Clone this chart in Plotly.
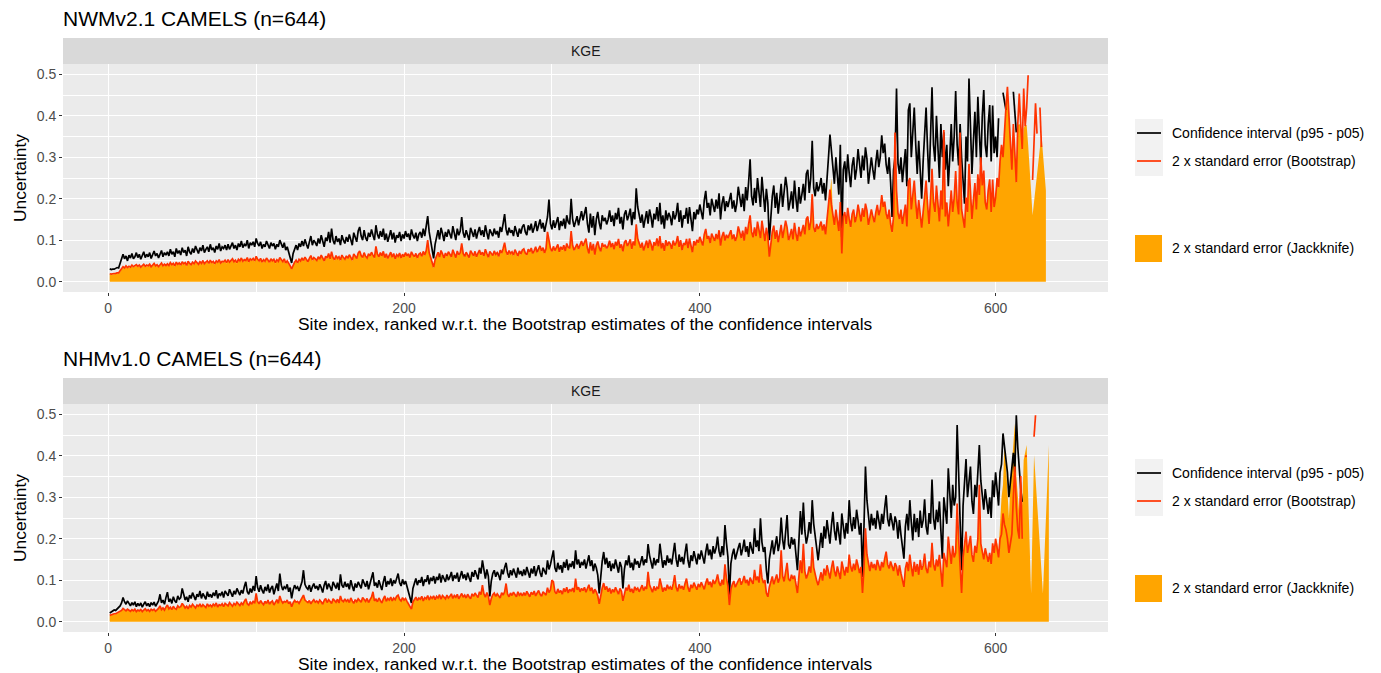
import numpy as np
import plotly.graph_objects as go

# ---------------- DATA (values in thousandths, per site index 1..644) ----------------
titles = ["NWMv2.1 CAMELS (n=644)", "NHMv1.0 CAMELS (n=644)"]
facet_label = "KGE"
legend_labels = ["Confidence interval (p95 - p05)",
                 "2 x standard error (Bootstrap)",
                 "2 x standard error (Jackknife)"]
x_title = "Site index, ranked w.r.t. the Bootstrap estimates of the confidence intervals"
y_title = "Uncertainty"
x_ticks = [0, 200, 400, 600]
y_ticks = [0.0, 0.1, 0.2, 0.3, 0.4, 0.5]

nwm_ci = [
    [31,29,30,30,32,34,33,45,58,66,55,62,50,64,57,68,55,60,70,58],
    [66,54,63,72,58,66,60,70,56,64,74,62,68,57,66,75,60,70,64,72],
    [62,78,66,72,60,80,68,75,64,82,70,76,62,84,72,66,80,70,86,74],
    [68,82,74,88,70,78,84,72,90,76,82,70,86,78,92,74,84,80,88,76],
    [90,78,86,94,80,88,76,92,84,98,82,90,86,100,80,94,88,96,84,104],
    [92,86,96,80,90,84,98,88,80,94,86,92,78,90,84,100,88,82,94,76],
    [84,70,62,45,68,80,88,76,92,84,98,86,102,90,80,96,110,88,100,94],
    [86,104,92,112,96,84,106,98,120,94,128,100,90,110,96,104,88,112,100,92],
    [108,96,114,100,88,118,104,96,122,132,110,100,124,106,98,118,108,126,112,100],
    [136,114,104,122,108,128,100,116,96,110,124,102,118,94,112,106,120,98,114,104],
    [122,108,116,100,126,112,104,118,98,114,120,106,128,110,132,158,120,100,82,56],
    [90,110,124,102,130,116,98,120,108,126,112,104,134,118,100,128,112,122,156,118],
    [106,124,114,100,130,118,108,126,104,120,132,112,124,108,136,118,102,126,116,110],
    [128,114,122,106,132,120,140,163,126,112,130,118,124,110,134,120,108,128,116,132],
    [138,120,112,136,124,140,118,130,146,122,134,150,128,142,120,138,156,198,140,126],
    [148,130,142,156,124,146,134,152,128,160,144,138,200,150,132,146,158,136,152,170],
    [148,162,180,140,118,164,130,158,112,150,168,142,126,160,146,154,138,150,172,144],
    [160,134,166,150,178,140,156,126,162,172,148,160,176,136,168,150,225,180,158,142],
    [162,130,150,170,140,174,156,130,164,150,180,146,190,138,160,128,172,148,166,156],
    [136,170,150,162,190,144,172,130,160,152,178,140,180,154,122,168,150,174,162,186],
    [170,150,196,219,178,190,160,200,184,168,198,176,213,150,188,206,170,194,180,200],
    [214,176,196,168,188,229,200,180,212,170,228,196,240,295,206,184,226,190,250,214],
    [180,253,200,168,224,190,100,170,206,232,178,214,164,198,236,180,210,253,226,172],
    [192,218,176,244,200,168,228,188,210,236,196,260,270,214,250,340,226,206,240,218],
    [230,250,212,238,196,262,300,355,318,280,236,300,254,210,330,108,270,290,240,307],
    [262,228,280,300,246,272,320,286,250,304,268,324,296,236,262,300,270,246,288,318],
    [276,300,353,310,333,282,260,300,240,156,270,300,466,285,260,300,240,280,320,230],
    [414,430,300,360,420,330,260,340,280,200,290,360,420,320,240,350,469,330,290,400],
    [320,250,380,300,360,270,330,230,300,380,290,350,460,330,280,380,300,250,188,350],
    [290,490,380,260,340,410,300,446,360,280,400,462,330,300,380,426,290,425,310,350],
    [300,394,520,540,456,430,414,560,540,520,530,458,410,360,560,580,600,620,590,640],
    [620,660,640,680,700,650,720,680,700,740,720,760,740,780,760,800,780,820,800,840],
    [820,860,840,880],
]

nwm_boot = [
    [19,18,19,19,20,21,21,26,32,36,33,38,34,37,35,40,36,38,41,37],
    [40,35,39,42,37,40,38,42,36,39,44,38,41,36,40,45,38,42,39,43],
    [39,46,41,44,38,47,42,45,40,48,43,46,39,49,44,41,47,43,50,45],
    [42,48,44,51,43,47,50,44,52,46,49,43,50,47,53,45,49,48,52,46],
    [53,47,51,55,48,52,46,54,50,57,49,53,51,58,48,55,52,56,50,61],
    [54,50,56,47,53,49,57,52,47,55,50,54,46,53,49,58,52,48,55,45],
    [50,42,38,31,41,47,52,45,54,50,57,51,59,53,48,56,63,52,58,55],
    [51,60,54,64,56,50,61,57,68,55,72,58,53,63,56,60,52,64,58,54],
    [62,56,65,58,52,67,60,56,69,74,63,58,70,61,57,67,62,71,64,58],
    [85,66,60,70,62,73,58,67,56,64,71,59,68,55,65,61,69,57,66,60],
    [70,62,67,58,72,65,60,68,57,66,69,61,73,64,75,100,70,58,48,35],
    [53,64,71,59,75,67,57,69,62,72,65,60,77,68,58,74,65,70,92,68],
    [61,71,66,58,75,68,62,73,60,69,76,65,71,62,78,68,59,73,67,63],
    [74,66,70,61,76,69,80,94,73,65,75,68,72,64,77,69,62,74,67,76],
    [79,69,65,78,72,81,68,75,84,71,77,86,74,82,69,80,120,98,81,73],
    [85,75,82,90,72,84,77,88,74,92,83,80,122,87,76,84,91,79,88,98],
    [86,94,104,81,68,95,75,91,65,87,97,82,73,93,84,89,80,87,99,83],
    [93,78,96,87,103,81,90,73,94,100,86,93,102,79,97,87,138,104,92,82],
    [94,75,87,99,81,101,91,75,95,87,104,85,110,80,93,74,100,86,96,91],
    [79,99,87,94,110,84,100,76,93,88,103,81,104,89,71,98,87,101,94,108],
    [99,87,114,127,103,110,93,116,107,98,115,102,124,87,109,120,99,113,105,116],
    [124,102,114,98,109,133,116,105,123,99,132,114,139,160,120,107,131,110,145,124],
    [105,147,116,98,130,110,60,99,120,135,103,124,95,115,137,105,122,147,131,100],
    [112,127,102,142,116,98,132,109,122,137,114,151,157,124,145,211,131,120,139,127],
    [134,145,123,138,114,152,174,222,185,163,137,174,148,122,192,68,157,168,139,178],
    [152,132,163,174,143,158,186,166,145,177,156,188,172,137,152,174,157,143,167,185],
    [160,174,209,180,193,164,151,174,139,120,157,360,220,165,151,174,139,163,186,133],
    [240,250,174,209,244,191,151,197,162,130,168,209,244,186,139,203,272,191,168,232],
    [186,145,220,174,366,157,191,133,174,220,168,203,267,191,162,360,174,145,130,203],
    [168,284,220,151,197,238,174,259,209,300,232,268,191,174,220,247,168,246,180,203],
    [250,228,290,330,300,380,420,470,400,350,270,380,290,240,380,454,378,320,466,375],
    [420,498,540,560,245,330,430,357,520,420,325,560,580,600,620,640,660,680,700,720],
    [740,760,780,800],
]

nwm_jack = [
    [17,17,18,18,19,20,20,24,30,34,31,36,32,35,33,38,34,36,39,35],
    [38,33,37,40,35,38,36,40,34,37,42,36,39,34,38,43,36,40,37,41],
    [37,44,39,42,36,45,40,43,38,46,41,44,37,47,42,39,45,41,48,43],
    [40,46,42,49,41,45,48,42,50,44,47,41,48,45,51,43,47,46,50,44],
    [51,45,49,53,46,50,44,52,48,55,47,51,49,56,46,53,50,54,48,59],
    [52,48,54,45,51,47,55,50,45,53,48,52,44,51,47,56,50,46,53,43],
    [48,40,36,29,39,45,50,43,52,48,55,49,57,51,46,54,61,50,56,53],
    [49,58,52,62,54,48,59,55,66,53,70,56,51,61,54,58,50,62,56,52],
    [60,54,63,56,50,65,58,54,67,72,61,56,68,59,55,65,60,69,62,56],
    [83,64,58,68,60,71,56,65,54,62,69,57,66,53,63,59,67,55,64,58],
    [68,60,65,56,70,63,58,66,55,64,67,59,71,62,73,98,68,56,46,33],
    [51,62,69,57,73,65,55,67,60,70,63,58,75,66,56,72,63,68,90,66],
    [59,69,64,56,73,66,60,71,58,67,74,63,69,60,76,66,57,71,65,61],
    [72,64,68,59,74,67,78,92,71,63,73,66,70,62,75,67,60,72,65,74],
    [77,67,63,76,70,79,66,73,82,69,75,84,72,80,67,78,116,96,79,71],
    [83,73,80,88,70,82,75,86,72,90,81,78,120,85,74,82,89,77,86,96],
    [84,92,102,79,66,93,73,89,63,85,95,80,71,91,82,87,78,85,97,81],
    [91,76,94,85,101,79,88,71,92,98,84,91,100,77,95,85,136,102,90,80],
    [92,73,85,97,79,99,89,73,93,85,102,83,108,78,91,72,98,84,94,89],
    [77,97,85,92,108,82,98,74,91,86,101,79,102,87,69,96,85,99,92,106],
    [97,85,112,125,101,108,91,114,105,96,113,100,122,85,107,118,97,111,103,114],
    [122,100,112,96,107,131,114,103,121,97,130,112,137,158,118,105,129,108,143,122],
    [103,145,114,96,128,108,58,97,118,133,101,122,93,113,135,103,120,145,129,98],
    [110,125,100,140,114,96,130,107,120,135,112,149,155,122,143,209,129,118,137,125],
    [132,143,121,136,112,150,172,220,250,161,135,172,146,120,190,66,155,166,137,176],
    [150,130,161,172,141,156,184,164,143,175,154,186,170,135,150,172,155,141,165,183],
    [158,172,207,178,191,162,149,172,137,118,155,350,218,163,149,172,137,161,184,131],
    [238,248,172,207,242,189,149,195,160,128,166,207,242,184,137,201,270,189,166,230],
    [184,143,218,172,364,155,189,131,172,218,166,201,265,189,160,358,172,143,128,201],
    [166,282,218,149,195,236,172,257,207,298,230,266,189,172,218,245,166,244,178,201],
    [248,226,288,328,298,378,418,468,398,348,268,378,288,238,378,380,376,318,370,378],
    [378,330,540,560,160,560,580,600,620,640,357,310,265,220,560,580,600,620,640,660],
    [680,700,720,740],
]

nhm_ci = [
    [21,24,26,28,27,30,33,38,45,58,48,42,50,44,38,46,40,48,36,44],
    [38,45,35,42,48,38,44,36,46,40,47,37,43,50,66,45,52,42,58,71],
    [48,55,44,60,50,46,62,54,58,80,66,52,60,48,64,56,70,58,52,66],
    [60,74,56,68,62,54,72,60,66,58,70,62,76,56,68,64,72,58,74,66],
    [62,78,68,60,74,66,80,70,64,76,68,84,96,72,66,80,70,86,74,110],
    [82,72,88,76,68,84,74,90,70,80,86,66,78,92,74,116,88,76,84,80],
    [90,72,82,56,76,88,80,84,74,86,96,124,90,82,78,88,72,84,92,80],
    [86,76,90,82,70,88,98,78,92,84,74,96,86,80,94,76,114,88,82,96],
    [84,92,78,100,86,74,92,82,96,88,80,102,90,84,98,78,92,104,119,86],
    [94,82,100,88,76,96,110,84,98,90,104,86,100,92,108,116,94,86,102,90],
    [98,84,72,58,45,80,96,104,88,100,94,108,86,102,96,112,90,106,98,110],
    [92,108,100,116,94,112,104,96,114,100,108,120,98,112,104,118,96,110,122,104],
    [114,100,118,106,96,120,108,124,110,102,130,116,148,120,104,126,110,61,98,116],
    [124,108,120,112,100,126,114,130,142,118,106,124,112,128,118,106,130,114,122,110],
    [126,112,132,120,106,128,116,134,110,124,136,118,108,130,122,114,148,126,138,160],
    [172,130,120,142,126,136,118,144,130,150,124,140,132,146,128,172,138,150,130,144],
    [136,150,128,144,160,134,148,122,140,130,112,68,120,146,168,138,154,130,146,122],
    [140,128,150,136,118,144,132,80,126,148,136,160,130,142,124,152,138,146,130,144],
    [158,136,150,142,187,160,140,128,154,136,150,142,188,156,130,148,136,160,142,152],
    [138,164,190,150,132,162,144,156,138,166,188,148,130,160,146,170,152,138,164,150],
    [172,156,140,168,188,160,174,150,182,164,178,205,170,156,182,160,233,190,156,64],
    [140,162,176,150,168,178,190,160,176,198,168,182,156,192,176,164,225,180,196,170],
    [249,192,168,180,124,92,150,176,196,162,184,206,170,190,251,198,174,210,257,186],
    [176,204,186,200,168,124,196,267,210,287,220,188,206,240,212,293,236,200,178,148],
    [190,214,178,230,200,245,216,188,232,265,220,196,240,210,186,261,226,200,238,212],
    [293,240,218,252,224,270,244,210,238,108,230,374,293,246,220,260,232,250,224,268],
    [244,222,260,236,274,305,248,230,262,236,220,254,240,200,245,210,180,152,230,260],
    [220,293,240,196,260,216,250,204,268,226,244,295,230,210,262,236,343,250,222,270],
    [240,290,220,152,300,262,236,370,290,250,330,280,300,474,360,250,124,280,330,392],
    [300,340,374,290,260,330,300,360,426,340,300,270,320,280,260,300,250,341,300,360],
    [320,280,360,380,454,422,400,360,300,340,380,407,360,498,420,360,320,289,520,540],
    [560,580,600,620,640,660,680,700,720,740,760,780,800,820,840,860,880,900,920,940],
    [960,980,990,999],
]

nhm_boot = [
    [15,17,18,19,19,21,22,24,27,32,28,26,30,27,25,29,26,30,24,28],
    [26,29,24,28,31,26,29,25,30,27,30,25,28,32,38,29,33,28,35,40],
    [31,35,29,37,32,30,38,34,36,44,39,33,37,31,39,35,42,36,33,40],
    [37,43,35,41,38,34,43,37,40,36,42,38,45,35,41,39,43,36,44,40],
    [38,46,41,37,44,40,47,42,39,45,41,49,55,43,40,47,42,50,44,68],
    [48,43,51,45,41,49,44,52,42,47,50,40,46,53,44,62,51,45,49,47],
    [52,43,48,36,45,51,47,49,44,50,55,64,52,48,46,51,43,49,53,47],
    [50,45,52,48,42,51,56,46,53,49,44,55,50,47,54,45,62,51,48,55],
    [49,53,46,57,50,44,53,48,55,51,47,58,52,49,56,46,53,59,72,50],
    [54,48,57,51,45,55,62,49,56,52,59,50,57,53,61,64,54,50,58,52],
    [56,49,43,36,30,47,55,59,51,57,54,61,50,58,55,63,52,60,56,62],
    [53,61,57,65,54,63,59,55,64,57,61,67,56,63,59,66,55,62,68,59],
    [64,57,66,60,55,67,61,69,62,58,72,65,88,67,59,70,62,40,56,65],
    [69,61,67,63,57,70,64,72,92,66,60,69,63,71,66,60,72,64,68,62],
    [70,63,73,67,60,71,65,74,62,69,75,66,61,72,68,64,82,70,77,100],
    [96,72,67,79,70,75,66,80,72,83,69,78,73,81,71,104,77,83,72,80],
    [75,83,71,80,89,74,82,68,78,72,62,43,67,81,93,77,85,72,81,68],
    [78,71,83,75,66,80,73,50,70,82,75,89,72,79,69,84,77,81,72,80],
    [88,75,83,79,120,89,78,71,85,75,83,79,104,86,72,82,75,89,79,84],
    [77,91,112,83,73,90,80,86,77,92,104,82,72,89,81,94,84,77,91,83],
    [95,86,78,93,104,89,96,83,101,91,99,114,94,86,101,89,138,105,86,40],
    [78,90,98,83,93,99,105,89,98,110,93,101,87,106,98,91,125,100,109,94],
    [138,106,93,100,69,60,83,98,109,90,102,114,94,105,172,110,97,117,142,103],
    [98,113,103,111,93,69,109,148,117,188,122,104,114,133,118,180,131,111,99,88],
    [105,119,99,128,111,136,120,104,129,147,122,109,133,117,103,145,126,111,132,118],
    [162,133,121,140,124,150,135,117,132,69,128,225,162,137,122,144,129,139,124,149],
    [135,123,144,131,152,169,138,128,145,131,122,141,133,111,136,117,100,84,128,144],
    [122,162,133,109,144,120,139,113,149,125,135,164,128,117,145,131,190,139,123,150],
    [133,161,122,84,166,145,131,205,161,139,183,155,166,285,200,139,69,155,183,217],
    [166,188,207,161,144,183,166,200,330,188,166,150,177,155,144,166,139,189,166,200],
    [177,155,200,211,261,234,222,200,166,188,211,300,374,276,222,200,351,200,560,398],
    [400,560,580,600,620,446,498,640,660,680,700,720,740,760,780,800,820,840,860,880],
    [900,920,940,960],
]

nhm_jack = [
    [14,16,17,18,18,20,21,23,26,31,27,25,29,26,24,28,25,29,23,27],
    [25,28,23,27,30,25,28,24,29,26,29,24,27,31,37,28,32,27,34,39],
    [30,34,28,36,31,29,37,33,35,43,38,32,36,30,38,34,41,35,32,39],
    [36,42,34,40,37,33,42,36,39,35,41,37,44,34,40,38,42,35,43,39],
    [37,45,40,36,43,39,46,41,38,44,40,48,54,42,39,46,41,49,43,67],
    [47,42,50,44,40,48,43,51,41,46,49,39,45,52,43,61,50,44,48,46],
    [51,42,47,35,44,50,46,48,43,49,54,63,51,47,45,50,42,48,52,46],
    [49,44,51,47,41,50,55,45,52,48,43,54,49,46,53,44,61,50,47,54],
    [48,52,45,56,49,43,52,47,54,50,46,57,51,48,55,45,52,58,71,49],
    [53,47,56,50,44,54,61,48,55,51,58,49,56,52,60,63,53,49,57,51],
    [55,48,42,35,29,46,54,58,50,56,53,60,49,57,54,62,51,59,55,61],
    [52,60,56,64,53,62,58,54,63,56,60,66,55,62,58,65,54,61,67,58],
    [63,56,65,59,54,66,60,68,61,57,71,64,87,66,58,69,61,39,55,64],
    [68,60,66,62,56,69,63,71,91,65,59,68,62,70,65,59,71,63,67,61],
    [69,62,72,66,59,70,64,73,61,68,74,65,60,71,67,63,81,69,76,99],
    [95,71,66,78,69,74,65,79,71,82,68,77,72,80,70,103,76,82,71,79],
    [74,82,70,79,88,73,81,67,77,71,61,42,66,80,92,76,84,71,80,67],
    [77,70,82,74,65,79,72,49,69,81,74,88,71,78,68,83,76,80,71,79],
    [87,74,82,78,119,88,77,70,84,74,82,78,103,85,71,81,74,88,78,83],
    [76,90,111,82,72,89,79,85,76,91,103,81,71,88,80,93,83,76,90,82],
    [94,85,77,92,103,88,95,82,100,90,98,113,93,85,100,88,137,104,85,39],
    [77,89,97,82,92,98,104,88,97,109,92,100,86,105,97,90,124,99,108,93],
    [137,105,92,99,68,59,82,97,108,89,101,113,93,104,171,109,96,116,141,102],
    [97,112,102,110,92,68,108,147,116,187,121,103,113,132,117,179,130,110,98,87],
    [104,118,98,127,110,135,119,103,128,146,121,108,132,116,102,144,125,110,131,117],
    [161,132,120,139,123,149,134,116,131,68,127,224,161,136,121,143,128,138,123,148],
    [134,122,143,130,151,168,137,127,144,130,121,140,132,110,135,116,99,83,127,143],
    [121,161,132,108,143,119,138,112,148,124,134,163,127,116,144,130,189,138,122,149],
    [132,160,121,83,165,144,130,204,160,138,182,154,165,284,199,138,68,154,182,216],
    [165,187,206,160,143,182,165,199,329,187,165,149,176,154,143,165,138,188,165,199],
    [190,170,240,300,330,430,380,300,250,330,380,420,478,350,300,260,350,280,390,410],
    [426,560,580,68,600,402,620,640,660,680,700,68,720,740,760,426,780,800,820,840],
    [860,880,900,920],
]

# ---------------- helpers ----------------
# The page body has an 8px margin, so the figure is drawn 8px in from the top-left.
OFF = 8
W, H = 1381 - OFF, 673 - OFF
def px(x): return (x - OFF) / W
def py(y): return 1 - (y - OFF) / H

def series(rows):
    v = np.array([a for r in rows for a in r], dtype=float) / 1000.0
    v[v > 0.5] = np.nan          # values outside the 0..0.5 scale limits are dropped
    return np.arange(1, len(v) + 1), v

COL_CI = "#000000"
COL_BOOT = "#FF3300"
COL_JACK = "#FFA500"
FONT = "Liberation Sans, Arial, Helvetica, sans-serif"
LW = 1.7
FS_TITLE = 21
FS_AXTITLE = 17.4
FS_SMALL = 14

fig = go.Figure()

panels = [
    dict(ci=nwm_ci, boot=nwm_boot, jack=nwm_jack, xa="x", ya="y", off=0),
    dict(ci=nhm_ci, boot=nhm_boot, jack=nhm_jack, xa="x2", ya="y2", off=340),
]

for p in panels:
    xj, yj = series(p["jack"])
    xb, yb = series(p["boot"])
    xc, yc = series(p["ci"])
    fig.add_trace(go.Scatter(x=xj, y=yj, mode="lines", line=dict(width=0, color=COL_JACK),
                             fill="tozeroy", fillcolor=COL_JACK, connectgaps=True,
                             xaxis=p["xa"], yaxis=p["ya"], showlegend=False,
                             name=legend_labels[2]))
    fig.add_trace(go.Scatter(x=xc, y=yc, mode="lines", line=dict(width=LW, color=COL_CI),
                             connectgaps=False, xaxis=p["xa"], yaxis=p["ya"],
                             showlegend=False, name=legend_labels[0]))
    fig.add_trace(go.Scatter(x=xb, y=yb, mode="lines", line=dict(width=LW, color=COL_BOOT),
                             connectgaps=False, xaxis=p["xa"], yaxis=p["ya"],
                             showlegend=False, name=legend_labels[1]))

x_dom = [px(63), px(1108)]
axis_common_x = dict(
    range=[-30.6, 676], tickvals=x_ticks, ticktext=[str(t) for t in x_ticks],
    ticks="outside", ticklen=3, tickwidth=1, tickcolor="#333333",
    tickfont=dict(family=FONT, size=FS_SMALL, color="#4D4D4D"),
    showgrid=True, gridcolor="white", gridwidth=1.1, zeroline=False, showline=False,
    minor=dict(tickvals=[100, 300, 500], showgrid=True, gridcolor="white", gridwidth=0.55, ticks=""),
    fixedrange=True,
)
axis_common_y = dict(
    range=[-0.025, 0.525], tickvals=y_ticks, ticktext=[f"{t:.1f}" for t in y_ticks],
    ticks="outside", ticklen=3, tickwidth=1, tickcolor="#333333",
    tickfont=dict(family=FONT, size=FS_SMALL, color="#4D4D4D"),
    showgrid=True, gridcolor="white", gridwidth=1.1, zeroline=False, showline=False,
    minor=dict(tickvals=[0.05, 0.15, 0.25, 0.35, 0.45], showgrid=True, gridcolor="white",
               gridwidth=0.55, ticks=""),
    fixedrange=True,
)

fig.update_layout(
    width=W, height=H, autosize=False,
    margin=dict(l=0, r=0, t=0, b=0),
    paper_bgcolor="white", plot_bgcolor="#EBEBEB",
    template="none", showlegend=False,
    font=dict(family=FONT, color="#000000"),
    xaxis=dict(domain=x_dom, anchor="y", **axis_common_x),
    yaxis=dict(domain=[py(292), py(64)], anchor="x", **axis_common_y),
    xaxis2=dict(domain=x_dom, anchor="y2", **axis_common_x),
    yaxis2=dict(domain=[py(632), py(404)], anchor="x2", **axis_common_y),
)

shapes = []
annotations = []
for i, p in enumerate(panels):
    o = p["off"]
    # facet strip
    shapes.append(dict(type="rect", xref="paper", yref="paper",
                       x0=px(63), x1=px(1108), y0=py(64 + o), y1=py(38 + o),
                       fillcolor="#D9D9D9", line=dict(width=0)))
    annotations.append(dict(text=facet_label, x=px(585.5), y=py(51 + o), xref="paper", yref="paper",
                            showarrow=False, xanchor="center", yanchor="middle",
                            font=dict(family=FONT, size=FS_SMALL, color="#1A1A1A")))
    # title
    annotations.append(dict(text=titles[i], x=px(61), y=py(18 + o), xref="paper", yref="paper",
                            showarrow=False, xanchor="left", yanchor="middle",
                            font=dict(family=FONT, size=FS_TITLE, color="#000000")))
    # axis titles
    annotations.append(dict(text=x_title, x=px(585.5), y=py(324 + o), xref="paper", yref="paper",
                            showarrow=False, xanchor="center", yanchor="middle",
                            font=dict(family=FONT, size=FS_AXTITLE, color="#000000")))
    annotations.append(dict(text=y_title, x=px(20), y=py(178 + o), xref="paper", yref="paper",
                            showarrow=False, xanchor="center", yanchor="middle", textangle=-90,
                            font=dict(family=FONT, size=FS_AXTITLE, color="#000000")))
    # legend keys
    shapes.append(dict(type="rect", xref="paper", yref="paper",
                       x0=px(1135), x1=px(1163), y0=py(176 + o), y1=py(119 + o),
                       fillcolor="#F2F2F2", line=dict(width=0)))
    shapes.append(dict(type="line", xref="paper", yref="paper",
                       x0=px(1137), x1=px(1161), y0=py(133 + o), y1=py(133 + o),
                       line=dict(color=COL_CI, width=LW)))
    shapes.append(dict(type="line", xref="paper", yref="paper",
                       x0=px(1137), x1=px(1161), y0=py(161 + o), y1=py(161 + o),
                       line=dict(color=COL_BOOT, width=LW)))
    shapes.append(dict(type="rect", xref="paper", yref="paper",
                       x0=px(1135), x1=px(1162), y0=py(262 + o), y1=py(235 + o),
                       fillcolor=COL_JACK, line=dict(width=0)))
    for txt, yy in zip(legend_labels, [133, 161, 248]):
        annotations.append(dict(text=txt, x=px(1170), y=py(yy + o), xref="paper", yref="paper",
                                showarrow=False, xanchor="left", yanchor="middle",
                                font=dict(family=FONT, size=FS_SMALL, color="#000000")))

fig.update_layout(shapes=shapes, annotations=annotations)
fig.write_html("out.html")
